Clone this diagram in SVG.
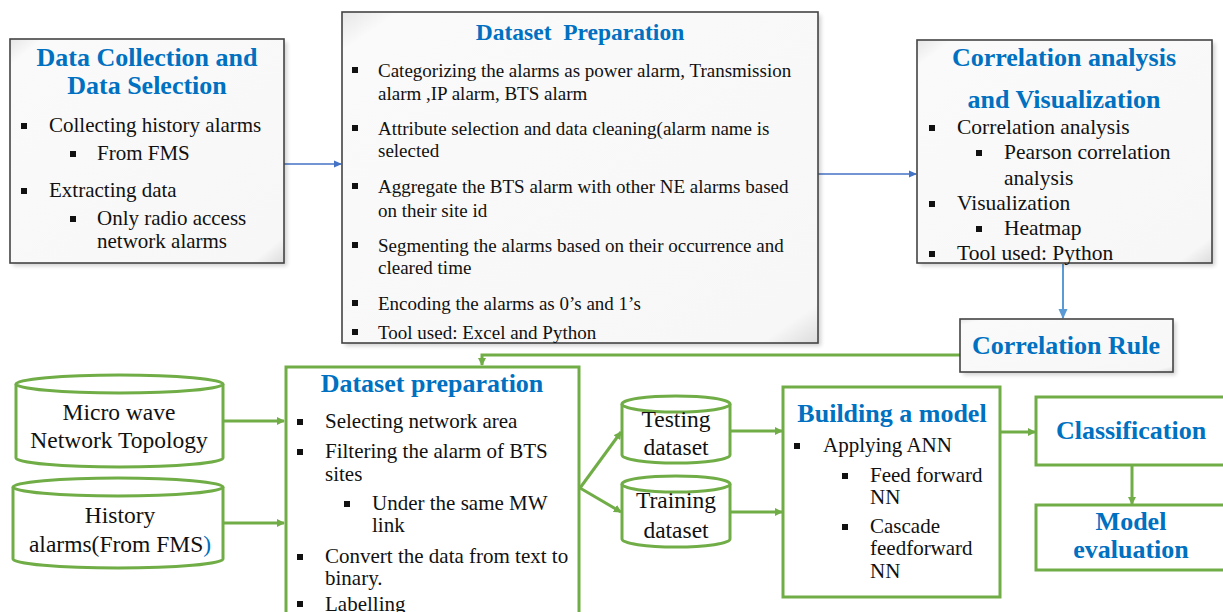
<svg xmlns="http://www.w3.org/2000/svg" width="1223" height="612" viewBox="0 0 1223 612">
<style>
.title{font-family:"Liberation Serif","Times New Roman","DejaVu Serif",serif;font-weight:bold;font-size:26px;fill:#0070C0;text-anchor:middle}
.t{font-family:"Liberation Serif","Times New Roman","DejaVu Serif",serif;font-size:21px;fill:#111}
.s{font-size:19px}
.r{font-size:21.5px}
.c{font-family:"Liberation Serif","Times New Roman","DejaVu Serif",serif;font-size:23.5px;fill:#111;text-anchor:middle}
.bul{fill:#111}
.gbox{fill:#fff;stroke:#70AD47;stroke-width:3}
.sbox{fill:url(#bevel);stroke:#444;stroke-width:1.6}
.shadow{fill:#000;opacity:0.18;filter:url(#blur)}
.gline{fill:none;stroke:#70AD47;stroke-width:3}
.bline{fill:none;stroke:#4472C4;stroke-width:1.5}
.lbline{fill:none;stroke:#5B9BD5;stroke-width:2}
.cyl{fill:#fff;stroke:#70AD47;stroke-width:3}
</style>
<defs>
<linearGradient id="bevel" x1="0" y1="0" x2="1" y2="1">
<stop offset="0" stop-color="#e6e6e6"/>
<stop offset="0.06" stop-color="#fafafa"/>
<stop offset="0.94" stop-color="#f7f7f7"/>
<stop offset="1" stop-color="#dcdcdc"/>
</linearGradient>
<filter id="blur" x="-10%" y="-10%" width="120%" height="120%"><feGaussianBlur stdDeviation="2"/></filter>
<marker id="ag" markerWidth="8" markerHeight="8" refX="7" refY="4" orient="auto" markerUnits="userSpaceOnUse"><path d="M0,0 L8,4 L0,8 Z" fill="#70AD47"/></marker>
<marker id="ab" markerWidth="8" markerHeight="8" refX="7" refY="4" orient="auto" markerUnits="userSpaceOnUse"><path d="M0,0.5 L8,4 L0,7.5 Z" fill="#4472C4"/></marker>
<marker id="alb" markerWidth="10" markerHeight="10" refX="9" refY="5" orient="auto" markerUnits="userSpaceOnUse"><path d="M0,0.5 L10,5 L0,9.5 Z" fill="#5B9BD5"/></marker>
</defs>
<rect width="1223" height="612" fill="#fff"/>

<g id="connectors">
<line class="bline" x1="284" y1="164" x2="341" y2="164" marker-end="url(#ab)"/>
<line class="bline" x1="818" y1="174" x2="916" y2="174" marker-end="url(#ab)"/>
<line class="lbline" x1="1063" y1="264" x2="1063" y2="318" marker-end="url(#alb)"/>
<polyline class="gline" points="960,355 482,355 482,365" marker-end="url(#ag)"/>
<line class="gline" x1="223" y1="421" x2="284" y2="421" marker-end="url(#ag)"/>
<line class="gline" x1="223" y1="523" x2="284" y2="523" marker-end="url(#ag)"/>
<line class="gline" x1="580" y1="488" x2="621" y2="432" marker-end="url(#ag)"/>
<line class="gline" x1="580" y1="488" x2="621" y2="512" marker-end="url(#ag)"/>
<line class="gline" x1="730" y1="431" x2="782" y2="431" marker-end="url(#ag)"/>
<line class="gline" x1="730" y1="512" x2="782" y2="512" marker-end="url(#ag)"/>
<line class="gline" x1="1000" y1="432" x2="1035" y2="432" marker-end="url(#ag)"/>
<line class="gline" x1="1132" y1="465" x2="1132" y2="504" marker-end="url(#ag)"/>
</g>

<g id="data-collection">
<rect class="shadow" x="13" y="42" width="274" height="224"/>
<rect class="sbox" x="10" y="39" width="274" height="224"/>
<text class="title" x="147" y="66">Data Collection and</text>
<text class="title" x="147" y="94">Data Selection</text>
<rect class="bul" x="21" y="123" width="6" height="6"/>
<text class="t" x="49" y="132">Collecting history alarms</text>
<rect class="bul" x="70" y="151" width="6" height="6"/>
<text class="t" x="97" y="160">From FMS</text>
<rect class="bul" x="21" y="188" width="6" height="6"/>
<text class="t" x="49" y="197">Extracting data</text>
<rect class="bul" x="70" y="216" width="6" height="6"/>
<text class="t" x="97" y="225">Only radio access</text>
<text class="t" x="97" y="248">network alarms</text>
</g>

<g id="dataset-preparation-top">
<rect class="shadow" x="345" y="15" width="476" height="331"/>
<rect class="sbox" x="342" y="12" width="476" height="331"/>
<text class="title" x="580" y="40" style="font-size:23.5px" xml:space="preserve">Dataset  Preparation</text>
<rect class="bul" x="352" y="67" width="6" height="6"/>
<text class="t s" x="378" y="77">Categorizing the alarms as power alarm, Transmission</text>
<text class="t s" x="378" y="100">alarm ,IP alarm, BTS alarm</text>
<rect class="bul" x="352" y="125" width="6" height="6"/>
<text class="t s" x="378" y="135">Attribute selection and data cleaning(alarm name is</text>
<text class="t s" x="378" y="157">selected</text>
<rect class="bul" x="352" y="183" width="6" height="6"/>
<text class="t s" x="378" y="193">Aggregate the BTS alarm with other NE alarms based</text>
<text class="t s" x="378" y="217">on their site id</text>
<rect class="bul" x="352" y="242" width="6" height="6"/>
<text class="t s" x="378" y="252">Segmenting the alarms based on their occurrence and</text>
<text class="t s" x="378" y="274">cleared time</text>
<rect class="bul" x="352" y="300" width="6" height="6"/>
<text class="t s" x="378" y="310">Encoding the alarms as 0’s and 1’s</text>
<rect class="bul" x="352" y="329" width="6" height="6"/>
<text class="t s" x="378" y="339">Tool used: Excel and Python</text>
</g>

<g id="correlation-analysis">
<rect class="shadow" x="920" y="43" width="295" height="223"/>
<rect class="sbox" x="917" y="40" width="295" height="223"/>
<text class="title" x="1064" y="66">Correlation analysis</text>
<text class="title" x="1064" y="108">and Visualization</text>
<rect class="bul" x="929" y="125" width="6" height="6"/>
<text class="t r" x="957" y="134">Correlation analysis</text>
<rect class="bul" x="976" y="150" width="6" height="6"/>
<text class="t r" x="1004" y="159">Pearson correlation</text>
<text class="t r" x="1004" y="185">analysis</text>
<rect class="bul" x="929" y="201" width="6" height="6"/>
<text class="t r" x="957" y="210">Visualization</text>
<rect class="bul" x="976" y="226" width="6" height="6"/>
<text class="t r" x="1004" y="235">Heatmap</text>
<rect class="bul" x="929" y="251" width="6" height="6"/>
<text class="t r" x="957" y="260">Tool used: Python</text>
</g>

<g id="correlation-rule">
<rect class="shadow" x="963" y="322" width="213" height="53"/>
<rect class="sbox" x="960" y="319" width="213" height="53"/>
<text class="title" x="1066" y="354">Correlation Rule</text>
</g>

<g id="microwave-topology">
<path class="cyl" d="M16,384 L16,458 A103.5,9 0 0 0 223,458 L223,384"/>
<ellipse class="cyl" cx="119.5" cy="384" rx="103.5" ry="9"/>
<text class="c" x="119" y="420">Micro wave</text>
<text class="c" x="119" y="448">Network Topology</text>
</g>

<g id="history-alarms">
<path class="cyl" d="M13,487 L13,559 A105,9 0 0 0 223,559 L223,487"/>
<ellipse class="cyl" cx="118" cy="487" rx="105" ry="9"/>
<text class="c" x="120" y="523">History</text>
<text class="c" x="120" y="552">alarms(From FMS<tspan fill="#0070C0">)</tspan></text>
</g>

<g id="dataset-preparation-bottom">
<rect class="gbox" x="286" y="367" width="293" height="260"/>
<text class="title" x="432" y="392">Dataset preparation</text>
<rect class="bul" x="297" y="419" width="6" height="6"/>
<text class="t" x="325" y="428">Selecting network area</text>
<rect class="bul" x="297" y="449" width="6" height="6"/>
<text class="t" x="325" y="458">Filtering the alarm of BTS</text>
<text class="t" x="325" y="481">sites</text>
<rect class="bul" x="344" y="501" width="6" height="6"/>
<text class="t" x="372" y="510">Under the same MW</text>
<text class="t" x="372" y="532">link</text>
<rect class="bul" x="297" y="554" width="6" height="6"/>
<text class="t" x="325" y="563">Convert the data from text to</text>
<text class="t" x="325" y="585">binary.</text>
<rect class="bul" x="297" y="601" width="6" height="6"/>
<text class="t" x="325" y="611">Labelling</text>
</g>

<g id="testing-dataset">
<path class="cyl" d="M622,404 L622,455 A54,8 0 0 0 730,455 L730,404"/>
<ellipse class="cyl" cx="676" cy="404" rx="54" ry="8"/>
<text class="c" x="676" y="427">Testing</text>
<text class="c" x="676" y="455">dataset</text>
</g>

<g id="training-dataset">
<path class="cyl" d="M622,484 L622,539 A54,8 0 0 0 730,539 L730,484"/>
<ellipse class="cyl" cx="676" cy="484" rx="54" ry="8"/>
<text class="c" x="676" y="508">Training</text>
<text class="c" x="676" y="538">dataset</text>
</g>

<g id="building-model">
<rect class="gbox" x="783" y="387" width="217" height="210"/>
<text class="title" x="892" y="422">Building a model</text>
<rect class="bul" x="794" y="443" width="6" height="6"/>
<text class="t" x="823" y="452">Applying ANN</text>
<rect class="bul" x="842" y="473" width="6" height="6"/>
<text class="t" x="870" y="482">Feed forward</text>
<text class="t" x="870" y="504">NN</text>
<rect class="bul" x="842" y="524" width="6" height="6"/>
<text class="t" x="870" y="533">Cascade</text>
<text class="t" x="870" y="555">feedforward</text>
<text class="t" x="870" y="578">NN</text>
</g>

<g id="classification">
<rect class="gbox" x="1036" y="397" width="190" height="68"/>
<text class="title" x="1131" y="439">Classification</text>
</g>

<g id="model-evaluation">
<rect class="gbox" x="1036" y="505" width="190" height="65"/>
<text class="title" x="1131" y="530">Model</text>
<text class="title" x="1131" y="558">evaluation</text>
</g>
</svg>
